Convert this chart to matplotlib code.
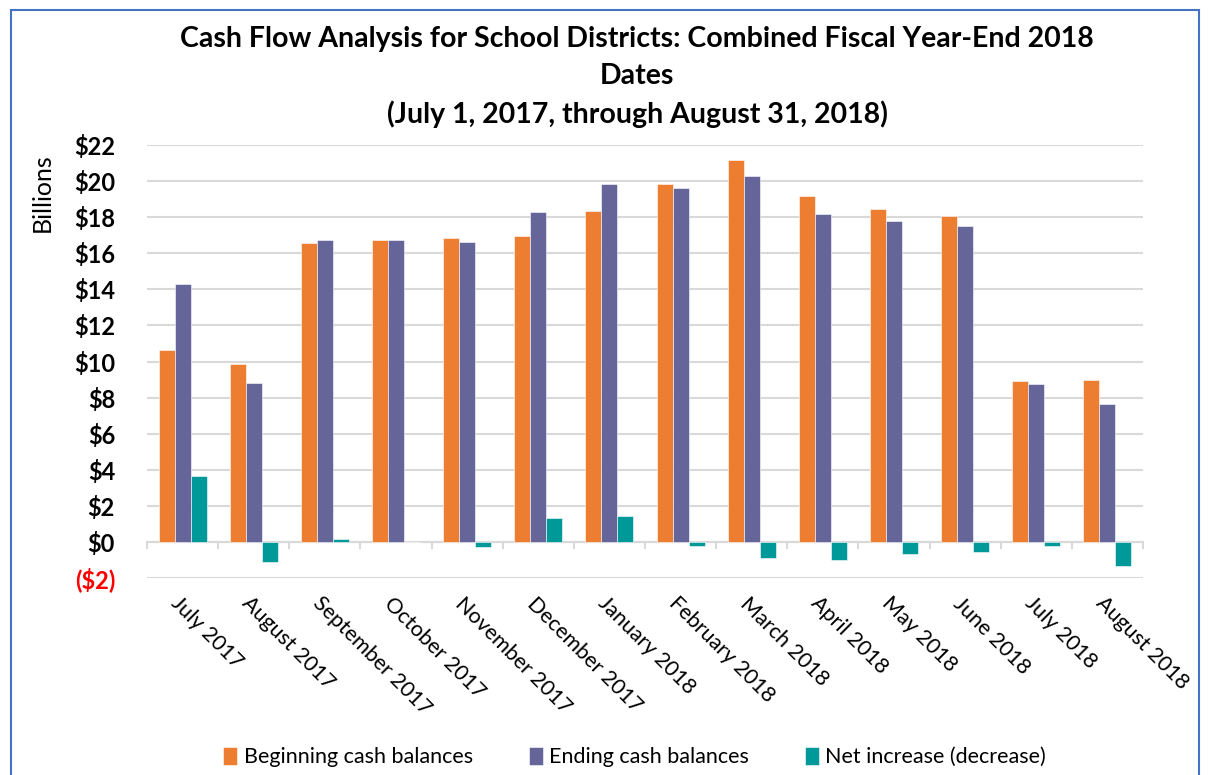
import matplotlib
matplotlib.use("Agg")
import matplotlib.pyplot as plt
import numpy as np
from matplotlib.patches import Rectangle

plt.rcParams["font.family"] = ["Lato", "DejaVu Sans"]

months = ["July 2017", "August 2017", "September 2017", "October 2017",
          "November 2017", "December 2017", "January 2018", "February 2018",
          "March 2018", "April 2018", "May 2018", "June 2018",
          "July 2018", "August 2018"]
beginning = [10.62, 9.86, 16.55, 16.72, 16.85, 16.95, 18.34, 19.82,
             21.16, 19.20, 18.43, 18.07, 8.94, 9.00]
ending = [14.28, 8.79, 16.72, 16.75, 16.60, 18.26, 19.82, 19.61,
          20.28, 18.19, 17.80, 17.52, 8.74, 7.67]
net = [3.64, -1.10, 0.17, 0.02, -0.26, 1.31, 1.46, -0.20,
       -0.87, -1.02, -0.65, -0.58, -0.22, -1.35]
series_names = ["Beginning cash balances", "Ending cash balances",
                "Net increase (decrease)"]
colors = ["#ED7D31", "#65659A", "#009999"]
yticks = list(range(-2, 23, 2))

fig = plt.figure(figsize=(12.09, 7.75), dpi=100)
ax = fig.add_axes([147 / 1209, 1 - 578 / 775, (1143 - 147) / 1209, (578 - 145) / 775])

x = np.arange(len(months))
w = 0.225
for i, (vals, name, c) in enumerate(zip([beginning, ending, net], series_names, colors)):
    ax.bar(x + (i - 1) * w, vals, w, color=c, label=name,
           edgecolor="white", linewidth=0.4, zorder=3)

ax.set_xlim(-0.5, len(months) - 0.5)
ax.set_ylim(-2, 22)
ax.set_yticks(yticks)
ax.set_yticklabels([f"(${-v})" if v < 0 else f"${v}" for v in yticks],
                   fontsize=17, fontweight="bold")
ax.get_yticklabels()[0].set_color("#FF0000")
ax.tick_params(axis="y", length=0, pad=23)
ax.grid(axis="y", color="#D9D9D9", linewidth=1.5, zorder=0)
for s in ax.spines.values():
    s.set_visible(False)

# category axis on the zero line, ticks between groups
ax.axhline(0, color="#D9D9D9", linewidth=1.5, zorder=2)
for b in np.arange(-0.5, len(months), 1.0):
    ax.plot([b, b], [0, -0.35], color="#D9D9D9", lw=1.5, zorder=2, clip_on=False)
ax.set_xticks(x)
ax.set_xticklabels([])
ax.tick_params(axis="x", length=0)
for xi, m in zip(x, months):
    ax.text(xi - 0.02, -2.85, m, rotation=-45, ha="left", va="top",
            rotation_mode="anchor", fontsize=15.5)

fig.text(0.035, 0.752, "Billions", rotation=90, ha="center", va="center", fontsize=18)
fig.text(0.527, 0.966, "Cash Flow Analysis for School Districts: Combined Fiscal Year-End 2018\n"
         "Dates\n(July 1, 2017, through August 31, 2018)",
         ha="center", va="top", fontsize=20.5, fontweight="bold", linespacing=1.5)

fig.legend(loc="center", bbox_to_anchor=(0.525, 0.023), ncol=3, frameon=False,
           fontsize=15.5, handlelength=0.65, handleheight=0.9, columnspacing=2.6,
           handletextpad=0.3)

fig.patches.append(Rectangle((11 / 1209, -0.1), (1199 - 11) / 1209, 1.1 - 10 / 775,
                             transform=fig.transFigure, fill=False,
                             edgecolor="#4472C4", linewidth=1.5))

fig.savefig("out.png", dpi=100)
